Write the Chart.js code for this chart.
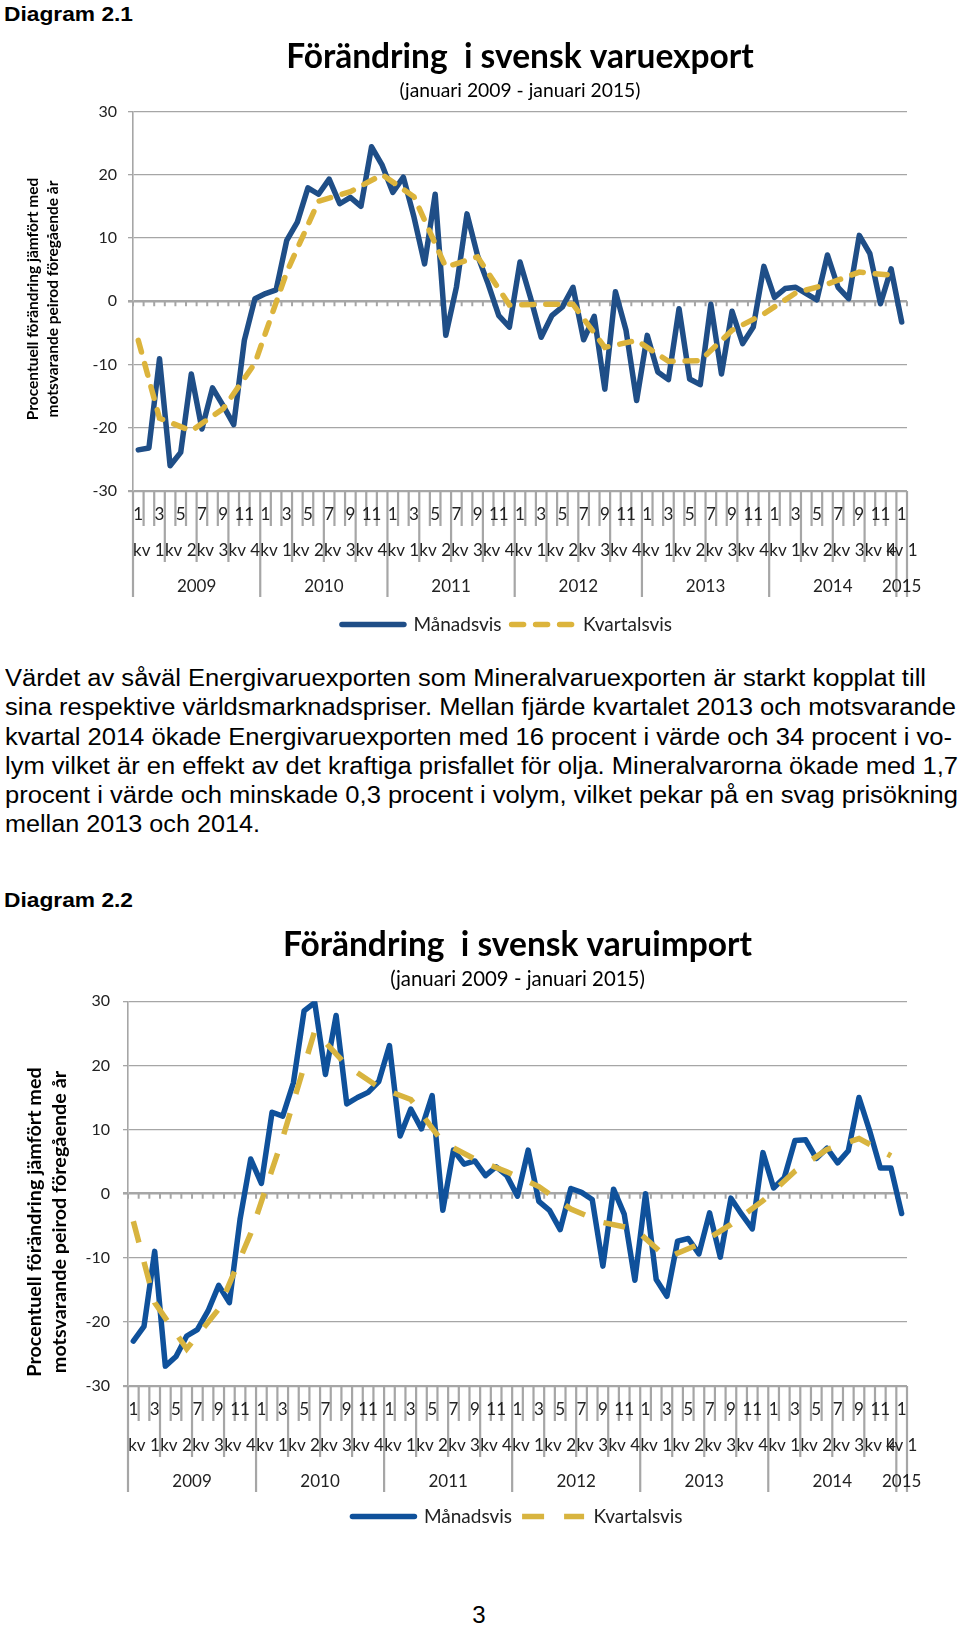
<!DOCTYPE html>
<html lang="sv">
<head>
<meta charset="utf-8">
<title>Förändring i svensk varuexport och varuimport</title>
<script src="https://cdn.jsdelivr.net/npm/chart.js@4.4.1/dist/chart.umd.min.js"></script>
<style>
  html, body { margin: 0; padding: 0; background: #fff; }
  body { position: relative; width: 960px; height: 1625px; overflow: hidden; font-family: "Liberation Sans", Arial, sans-serif; color: #000; }
  .heading { position: absolute; left: 4px; font-weight: bold; font-size: 20.5px; line-height: 20px; white-space: nowrap; transform: scaleX(1.11); transform-origin: left top; }
  .chartbox { position: absolute; left: 0; width: 960px; }
  #text { position: absolute; left: 5px; top: 664px; font-size: 23px; line-height: 29.25px; white-space: nowrap; }
  #text span { display: inline-block; transform-origin: left center; }
  #page { position: absolute; left: 0; width: 958px; top: 1603px; text-align: center; font-size: 24px; line-height: 24px; }
</style>
</head>
<body>
<div class="heading" style="top: 4px;">Diagram 2.1</div>
<div class="chartbox" style="top: 28px; height: 616px;"><canvas id="exportChart"></canvas></div>

<div id="text">
  <span>Värdet av såväl Energivaruexporten som Mineralvaruexporten är starkt kopplat till</span><br>
  <span>sina respektive världsmarknadspriser. Mellan fjärde kvartalet 2013 och motsvarande</span><br>
  <span>kvartal 2014 ökade Energivaruexporten med 16 procent i värde och 34 procent i vo-</span><br>
  <span>lym vilket är en effekt av det kraftiga prisfallet för olja. Mineralvarorna ökade med 1,7</span><br>
  <span>procent i värde och minskade 0,3 procent i volym, vilket pekar på en svag prisökning</span><br>
  <span>mellan 2013 och 2014.</span>
</div>

<div class="heading" style="top: 890px;">Diagram 2.2</div>
<div class="chartbox" style="top: 905px; height: 631px;"><canvas id="importChart"></canvas></div>

<div id="page">3</div>

<script>
// month numbers on the category axis, Jan 2009 - Jan 2015
const months = [
  '1', '2', '3', '4', '5', '6', '7', '8', '9', '10', '11', '12',
  '1', '2', '3', '4', '5', '6', '7', '8', '9', '10', '11', '12',
  '1', '2', '3', '4', '5', '6', '7', '8', '9', '10', '11', '12',
  '1', '2', '3', '4', '5', '6', '7', '8', '9', '10', '11', '12',
  '1', '2', '3', '4', '5', '6', '7', '8', '9', '10', '11', '12',
  '1', '2', '3', '4', '5', '6', '7', '8', '9', '10', '11', '12',
  '1'
];
const quarters = ['kv 1', 'kv 2', 'kv 3', 'kv 4'];
const years = ['2009', '2010', '2011', '2012', '2013', '2014', '2015'];
const seriesNames = ['Månadsvis', 'Kvartalsvis'];
const yTitle = ['Procentuell förändring jämfört med', 'motsvarande peirod föregående år'];

// export, monthly change (%)
const exportMonthly = [
  -23.5, -23.2, -9.1, -26.0, -23.9, -11.5, -20.2, -13.7, -16.5, -19.5, -6.2, 0.4,
  1.2, 1.8, 9.6, 12.5, 17.9, 16.9, 19.3, 15.4, 16.4, 15.0, 24.4, 21.5,
  17.2, 19.6, 13.3, 5.9, 16.9, -5.4, 2.2, 13.8, 7.2, 2.7, -2.3, -4.1,
  6.2, 0.5, -5.7, -2.3, -0.9, 2.2, -6.1, -2.4, -13.9, 1.5, -4.6, -15.7,
  -5.4, -11.2, -12.4, -1.2, -12.3, -13.2, -0.5, -11.5, -1.6, -6.7, -4.1, 5.5,
  0.6, 2.0, 2.2, 1.2, 0.2, 7.3, 2.2, 0.4, 10.4, 7.5, -0.4, 5.1,
  -3.3
];
// export, quarterly change (%): start value, then one per quarter (kv 1 2009 - kv 4 2014)
const exportQuarterly = [
  -6.2,
  -18.5, -20.5, -17.0, -9.8,
  4.6, 15.8, 17.3, 20.0,
  16.5, 5.4, 7.0, -0.6,
  -0.5, -0.5, -7.3, -6.2,
  -9.5, -9.4, -4.6, -2.0,
  1.3, 2.7, 4.6, 4.1
];

// import, monthly change (%)
const importMonthly = [
  -23.0, -20.7, -9.0, -26.9, -25.4, -22.2, -21.2, -18.3, -14.3, -17.0, -4.0, 5.4,
  1.6, 12.7, 12.1, 17.3, 28.5, 29.8, 18.6, 27.8, 14.0, 15.0, 15.8, 17.5,
  23.1, 9.0, 13.2, 10.1, 15.3, -2.6, 6.8, 4.6, 5.1, 2.8, 4.2, 2.8,
  -0.4, 6.8, -1.2, -2.6, -5.6, 0.8, 0.2, -0.9, -11.3, 0.7, -3.2, -13.5,
  0.0, -13.4, -16.0, -7.4, -7.0, -9.4, -3.0, -9.9, -0.7, -3.2, -5.5, 6.4,
  0.9, 2.5, 8.3, 8.4, 5.5, 7.1, 4.8, 6.7, 15.0, 9.8, 4.0, 4.0,
  -3.1
];
// import, quarterly change (%)
const importQuarterly = [
  -4.3,
  -17.0, -24.2, -18.0, -6.2,
  8.7, 25.4, 20.0, 16.6,
  14.7, 8.0, 5.4, 3.4,
  1.1, -2.4, -4.5, -5.5,
  -10.0, -7.9, -4.8, -1.1,
  3.5, 6.9, 8.6, 5.9
];

const gridColour = '#a6a6a6';
const textColour = '#222';
Chart.defaults.font.family = 'Lato';
Chart.defaults.color = textColour;

// quarter values sit on the last month of each quarter
function onMonthAxis(q) {
  const out = months.map(() => null);
  out[0] = q[0];
  for (let k = 1; k < q.length; k++) out[3 * k - 1] = q[k];
  return out;
}

// group the months into quarters and years for the label table
function groups() {
  const qs = [], ys = [];
  let yi = 0;
  months.forEach((m, i) => {
    const mm = Number(m);
    if (i > 0 && mm === 1) yi++;
    const q = Math.floor((mm - 1) / 3);
    const lq = qs[qs.length - 1];
    if (!lq || lq.q !== q || lq.y !== yi) qs.push({ q: q, y: yi, from: i, to: i }); else lq.to = i;
    const ly = ys[ys.length - 1];
    if (!ly || ly.y !== yi) ys.push({ y: yi, from: i, to: i }); else ly.to = i;
  });
  return { qs, ys };
}

const monthTable = {
  id: 'monthTable',
  afterLayout(chart, args, opts) {
    // the legend is not quite centred under the plot in the original
    if (opts.legendShift) {
      chart.legend.left += opts.legendShift;
      chart.legend.right += opts.legendShift;
    }
  },
  beforeDatasetsDraw(chart) {
    // small ticks under the zero line
    const { ctx, scales: { x, y } } = chart;
    const y0 = y.getPixelForValue(0);
    const half = (x.getPixelForValue(1) - x.getPixelForValue(0)) / 2;
    ctx.save();
    ctx.strokeStyle = gridColour;
    ctx.lineWidth = 2;
    ctx.beginPath();
    for (let i = 0; i <= months.length; i++) {
      const px = x.getPixelForValue(i) - half;
      ctx.moveTo(px, y0);
      ctx.lineTo(px, y0 + 5);
    }
    ctx.stroke();
    ctx.restore();
  },
  afterDraw(chart) {
    const { ctx, scales: { x } } = chart;
    const b = chart.chartArea.bottom;
    const half = (x.getPixelForValue(1) - x.getPixelForValue(0)) / 2;
    ctx.save();
    ctx.strokeStyle = gridColour;
    ctx.lineWidth = 2.2;
    ctx.beginPath();
    for (let i = 0; i <= months.length; i++) {
      const px = x.getPixelForValue(i) - half;
      let len = 35;
      if (i === months.length || months[i] === '1') len = 106;
      else if (Number(months[i]) % 3 === 1) len = 71;
      ctx.moveTo(px, b);
      ctx.lineTo(px, b + len);
    }
    ctx.stroke();

    ctx.fillStyle = textColour;
    ctx.font = '17px Lato';
    ctx.textAlign = 'center';
    ctx.textBaseline = 'middle';
    months.forEach((m, i) => {
      if (Number(m) % 2 === 1) ctx.fillText(m, x.getPixelForValue(i), b + 24);
    });
    const g = groups();
    g.qs.forEach(q => {
      const cx = (x.getPixelForValue(q.from) + x.getPixelForValue(q.to)) / 2;
      ctx.fillText(quarters[q.q], cx, b + 59.5);
    });
    g.ys.forEach(yr => {
      const cx = (x.getPixelForValue(yr.from) + x.getPixelForValue(yr.to)) / 2;
      ctx.fillText(years[yr.y], cx, b + 95.5);
    });
    ctx.restore();
  }
};

const sideTitle = {
  id: 'sideTitle',
  afterDraw(chart, args, opts) {
    const ctx = chart.ctx;
    ctx.save();
    ctx.translate(opts.x, opts.y);
    ctx.rotate(-Math.PI / 2);
    ctx.font = 'bold ' + opts.size + 'px Lato';
    ctx.fillStyle = '#000';
    ctx.textAlign = 'center';
    ctx.textBaseline = 'middle';
    yTitle.forEach((t, k) => ctx.fillText(t, 0, k * opts.gap));
    ctx.restore();
  }
};

function makeChart(id, cfg) {
  return new Chart(document.getElementById(id), {
    type: 'line',
    data: {
      labels: months,
      datasets: [{
        label: seriesNames[0],
        data: cfg.monthly,
        borderColor: cfg.blue,
        backgroundColor: cfg.blue,
        borderWidth: 5.5,
        borderJoinStyle: 'round',
        borderCapStyle: 'round',
        pointRadius: 0,
        order: 1
      }, {
        label: seriesNames[1],
        data: onMonthAxis(cfg.quarterly),
        spanGaps: true,
        borderColor: cfg.gold,
        backgroundColor: cfg.gold,
        borderWidth: 5.5,
        borderDash: cfg.dash,
        borderCapStyle: cfg.cap,
        pointRadius: 0,
        order: 0
      }]
    },
    options: {
      responsive: true,
      maintainAspectRatio: false,
      animation: false,
      layout: { padding: { left: 0, right: 53, top: 0, bottom: 0 } },
      scales: {
        x: {
          offset: true,
          grid: { display: false },
          border: { display: false },
          ticks: { display: false },
          afterFit: s => { s.height = cfg.xHeight; }
        },
        y: {
          min: -30,
          max: 30,
          ticks: { stepSize: 10, padding: cfg.tickPad, font: { size: 16 }, color: textColour, callback: v => String(v) },
          grid: {
            color: gridColour,
            tickLength: 5,
            lineWidth: c => c.tick.value === 0 ? 2.6 : (c.tick.value === -30 ? 2.2 : 1.3)
          },
          border: { display: true, color: gridColour, width: 1.6 },
          afterFit: s => { s.width = cfg.left; }
        }
      },
      plugins: {
        title: {
          display: true,
          text: cfg.title,
          fullSize: false,
          color: '#000',
          font: { size: 33.5, weight: 'bold', lineHeight: 1.2 },
          padding: cfg.titlePad
        },
        subtitle: {
          display: true,
          text: '(januari 2009 - januari 2015)',
          fullSize: false,
          color: '#000',
          font: { size: cfg.subSize, lineHeight: 1.2 },
          padding: cfg.subPad
        },
        legend: {
          position: 'bottom',
          fullSize: false,
          labels: {
            font: { size: 19 },
            color: textColour,
            usePointStyle: true,
            pointStyleWidth: 62,
            padding: 10,
            generateLabels: chart => chart.data.datasets.map((ds, i) => ({
              text: ds.label,
              fillStyle: ds.borderColor,
              strokeStyle: ds.borderColor,
              lineWidth: ds.borderWidth,
              lineDash: ds.borderDash || [],
              lineCap: ds.borderCapStyle,
              pointStyle: 'line',
              fontColor: textColour,
              hidden: false,
              datasetIndex: i
            }))
          }
        },
        tooltip: { enabled: false },
        monthTable: { legendShift: cfg.legendShift },
        sideTitle: cfg.side
      }
    },
    plugins: [monthTable, sideTitle]
  });
}

makeChart('exportChart', {
  title: 'Förändring  i svensk varuexport',
  monthly: exportMonthly,
  quarterly: exportQuarterly,
  blue: '#1f4e87',
  gold: '#dcb43c',
  dash: [12, 12],
  cap: 'round',
  left: 133,
  legendShift: -13,
  tickPad: 11,
  xHeight: 114,
  subSize: 19.3,
  titlePad: { top: 8.9, bottom: 1.7 },
  subPad: { top: 0, bottom: 9.4 },
  side: { x: 33, y: 271, gap: 20, size: 15.5 }
});

makeChart('importChart', {
  title: 'Förändring  i svensk varuimport',
  monthly: importMonthly,
  quarterly: importQuarterly,
  blue: '#0f519b',
  gold: '#d8b43f',
  dash: [22, 20],
  cap: 'butt',
  left: 128,
  legendShift: 0,
  tickPad: 13,
  xHeight: 111,
  subSize: 20.4,
  titlePad: { top: 19.9, bottom: 2.0 },
  subPad: { top: 0, bottom: 9.75 },
  side: { x: 35, y: 317, gap: 25, size: 19.8 }
});

// the printed text is slightly wider than the font: fit each line to its measured length
const lineEnds = [926, 956, 952, 958, 958, 260];
document.querySelectorAll('#text span').forEach((s, k) => {
  const w = s.getBoundingClientRect().width;
  s.style.transform = 'scaleX(' + ((lineEnds[k] - 5) / w) + ')';
});
</script>
</body>
</html>
